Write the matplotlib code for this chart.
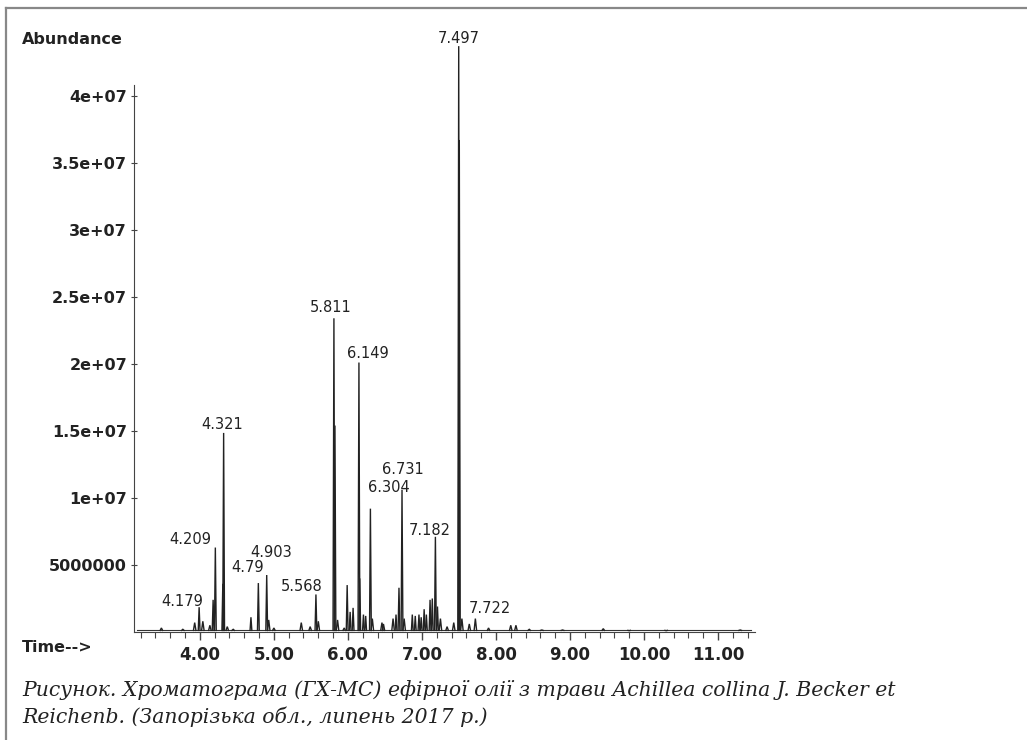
import matplotlib.pyplot as plt
from matplotlib.lines import Line2D
from matplotlib.ticker import FixedLocator, MultipleLocator

# Піки хроматограми: час утримання (хв) та висота (abundance)
peak_times = [3.48, 3.77, 3.93, 3.99, 4.04, 4.135, 4.179, 4.209, 4.31, 4.321,
              4.37, 4.45, 4.69, 4.79, 4.903, 4.93, 5.00, 5.37, 5.49, 5.568,
              5.60, 5.811, 5.825, 5.86, 5.95, 5.99, 6.03, 6.07, 6.149, 6.16,
              6.21, 6.24, 6.304, 6.33, 6.46, 6.48, 6.61, 6.65, 6.69, 6.731,
              6.76, 6.87, 6.91, 6.96, 6.99, 7.03, 7.06, 7.11, 7.14, 7.182,
              7.21, 7.25, 7.34, 7.43, 7.497, 7.505, 7.54, 7.64, 7.722, 7.90,
              8.20, 8.27, 8.45, 8.62, 8.90, 9.45, 9.80, 10.3, 11.3]
peak_heights = [0.3e6, 0.2e6, 0.7e6, 1.85e6, 0.8e6, 0.5e6, 2.4e6, 6.3e6, 3.6e6, 14.85e6,
                0.4e6, 0.2e6, 1.1e6, 3.65e6, 4.25e6, 0.9e6, 0.3e6, 0.7e6, 0.4e6, 2.8e6,
                0.8e6, 23.4e6, 15.4e6, 0.9e6, 0.3e6, 3.5e6, 1.5e6, 1.8e6, 20.1e6, 4.0e6,
                1.3e6, 1.2e6, 9.2e6, 1.0e6, 0.7e6, 0.6e6, 1.0e6, 1.3e6, 3.3e6, 10.6e6,
                1.0e6, 1.3e6, 1.2e6, 1.3e6, 1.1e6, 1.7e6, 1.3e6, 2.4e6, 2.5e6, 7.1e6,
                1.9e6, 1.0e6, 0.4e6, 0.7e6, 43.7e6, 36.7e6, 1.0e6, 0.6e6, 1.0e6, 0.3e6,
                0.5e6, 0.5e6, 0.2e6, 0.15e6, 0.15e6, 0.25e6, 0.1e6, 0.1e6, 0.15e6]

# Підписані піки
label_texts = ['4.179', '4.209', '4.321', '4.79', '4.903', '5.568', '5.811',
               '6.149', '6.304', '6.731', '7.182', '7.497', '7.722']
label_x = [3.76, 3.865, 4.30, 4.65, 4.97, 5.38, 5.77, 6.27, 6.55, 6.74, 7.11, 7.50, 7.92]
label_y = [2.24e6, 6.87e6, 15.45e6, 4.78e6, 5.9e6, 3.36e6, 24.2e6, 20.8e6, 10.8e6,
           12.1e6, 7.6e6, 44.3e6, 1.72e6]

y_ticks = [5e6, 10e6, 15e6, 20e6, 25e6, 30e6, 35e6, 40e6]
y_tick_labels = ['5000000', '1e+07', '1.5e+07', '2e+07', '2.5e+07', '3e+07', '3.5e+07', '4e+07']
x_ticks = [4, 5, 6, 7, 8, 9, 10, 11]
x_tick_labels = ['4.00', '5.00', '6.00', '7.00', '8.00', '9.00', '10.00', '11.00']

caption_1 = 'Рисунок. Хроматограма (ГХ-МС) ефірної олії з трави Achillea collina J. Becker et'
caption_2 = 'Reichenb. (Запорізька обл., липень 2017 р.)'

W, H = 1027, 740
fig = plt.figure(figsize=(W / 100, H / 100), dpi=100)
ax = fig.add_axes([134 / W, (H - 632) / H, 621 / W, (632 - 85) / H])

# Базова лінія та піки
ax.plot([3.15, 11.45], [0.12e6, 0.12e6], color='#333333', linewidth=0.8)
half_w = 0.012
for t, h in zip(peak_times, peak_heights):
    w = half_w if h > 1e6 else half_w * 1.4
    ax.plot([t - w, t, t + w], [0.12e6, h, 0.12e6], color='#222222',
            linewidth=1.0, clip_on=False, solid_joinstyle='miter')

ax.set_xlim(3.11, 11.5)
ax.set_ylim(0, 40.8e6)

for side in ['top', 'right']:
    ax.spines[side].set_visible(False)
ax.spines['left'].set_color('#444444')
ax.spines['bottom'].set_color('#444444')

ax.xaxis.set_major_locator(FixedLocator(x_ticks))
ax.set_xticklabels(x_tick_labels)
ax.xaxis.set_minor_locator(MultipleLocator(0.2))
ax.tick_params(axis='x', which='major', direction='out', length=6, width=1, color='#444444',
               pad=4, labelsize=12)
ax.tick_params(axis='x', which='minor', direction='out', length=4, width=0.8, color='#444444')

ax.yaxis.set_major_locator(FixedLocator(y_ticks))
ax.set_yticklabels(y_tick_labels)
ax.tick_params(axis='y', which='major', direction='inout', length=4, width=0.8, color='#444444',
               pad=3, labelsize=11.5)
for lbl in ax.get_xticklabels() + ax.get_yticklabels():
    lbl.set_fontweight('bold')
    lbl.set_color('#222222')

# Підписи піків
for txt, lx, ly in zip(label_texts, label_x, label_y):
    ax.text(lx, ly, txt, ha='center', va='center', fontsize=10.5, color='#222222',
            clip_on=False)

fig.text(22 / W, 1 - 40 / H, 'Abundance', ha='left', va='center', fontsize=11.5,
         fontweight='bold', color='#222222')
fig.text(22 / W, 1 - 648 / H, 'Time-->', ha='left', va='center', fontsize=11.5,
         fontweight='bold', color='#222222')

# Підпис рисунка
fig.text(22 / W, 1 - 690 / H, caption_1, ha='left', va='center', fontsize=14.7,
         family='DejaVu Serif', style='italic', color='#222222')
fig.text(22 / W, 1 - 717 / H, caption_2, ha='left', va='center', fontsize=14.7,
         family='DejaVu Serif', style='italic', color='#222222')

# Рамка (верхня та ліва лінії)
fig.add_artist(Line2D([6 / W, 1], [1 - 8 / H, 1 - 8 / H], transform=fig.transFigure,
                      color='#888888', linewidth=1.6))
fig.add_artist(Line2D([6 / W, 6 / W], [0, 1 - 8 / H], transform=fig.transFigure,
                      color='#888888', linewidth=1.6))

fig.savefig('out.png', dpi=100)
